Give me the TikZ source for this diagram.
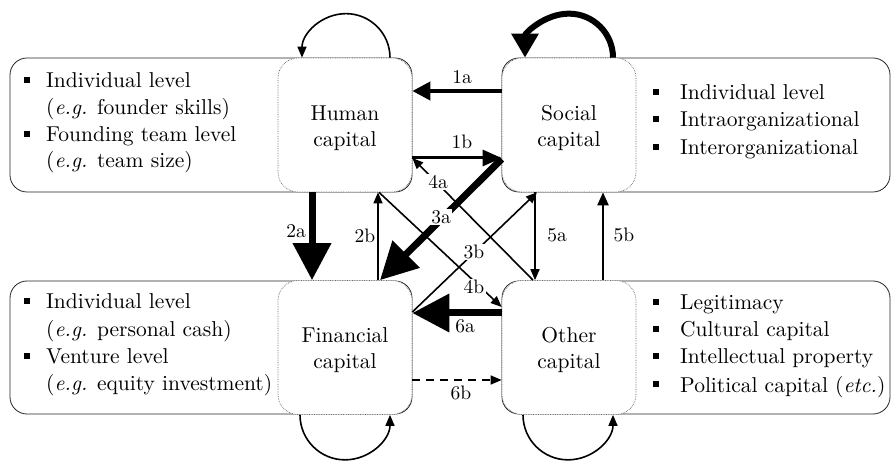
\documentclass[tikz,border=0pt]{standalone}
\usepackage{fontspec}
\setmainfont{lmroman10}[Extension=.otf, UprightFont=*-regular, ItalicFont=*-italic, BoldFont=*-bold]
\usetikzlibrary{arrows.meta}
\newcommand\mybul[1]{\makebox[#1][l]{\rule[5pt]{6pt}{6pt}}}
\newcommand\capstrut{\rule{0pt}{21pt}}
\begin{document}
\begin{tikzpicture}[x=1pt,y=-1pt,
  outerbox/.style={draw=black!85, line width=0.8pt, rounded corners=17pt},
  capbox/.style={draw=black!60, densely dotted, line width=0.7pt, fill=white,
    rounded corners=20pt, minimum width=134pt, minimum height=134pt,
    inner sep=0pt, align=center, font=\fontsize{21.5}{26}\selectfont, text=black},
  item/.style={anchor=base west, inner sep=0pt, font=\fontsize{21.5}{27}\selectfont, text=black},
  lbl/.style={inner sep=1.5pt, font=\fontsize{19.5}{19.5}\selectfont, text=black},
  onl/.style={lbl, fill=white},
  thinarr/.style={line width=1.6pt, -{Triangle[length=11pt,width=9pt]}},
  arrA/.style={line width=4pt, -{Triangle[length=18pt,width=18pt]}},
  arrB/.style={line width=3pt, -{Triangle[length=19pt,width=16pt]}},
  arrC/.style={line width=2.4pt, -{Triangle[length=13pt,width=11pt]}},
  bigarr/.style={line width=7pt, -{Triangle[length=37pt,width=37pt]}},
  loopbig/.style={line width=6pt, -{Triangle[length=24pt,width=26pt]}},
]
\useasboundingbox (0,0) rectangle (892,462);

% outer boxes
\draw[outerbox] (10,58) rectangle (412,192);
\draw[outerbox] (502,58) rectangle (890,192);
\draw[outerbox] (10,281) rectangle (412,414);
\draw[outerbox] (502,281) rectangle (890,414);

% capital boxes
\node[capbox] (human) at (345,125) {\capstrut Human\\capital};
\node[capbox] (social) at (569,125) {\capstrut Social\\capital};
\node[capbox] (financial) at (345,347.5) {\capstrut Financial\\capital};
\node[capbox] (other) at (569,347.5) {\capstrut Other\\capital};

% lists
\node[item] (h1) at (24,88) {\mybul{22pt}Individual level};
\node[item] (h2) at (46,115) {(\textit{e.g.} founder skills)};
\node[item] (h3) at (24,142) {\mybul{22pt}Founding team level};
\node[item] (h4) at (46,168) {(\textit{e.g.} team size)};

\node[item] (s1) at (653,100) {\mybul{27pt}Individual level};
\node[item] (s2) at (653,127) {\mybul{27pt}Intraorganizational};
\node[item] (s3) at (653,155) {\mybul{27pt}Interorganizational};

\node[item] (f1) at (24,309) {\mybul{22pt}Individual level};
\node[item] (f2) at (46,337) {(\textit{e.g.} personal cash)};
\node[item] (f3) at (24,364) {\mybul{22pt}Venture level};
\node[item] (f4) at (46,391) {(\textit{e.g.} equity investment)};

\node[item] (o1) at (653,310) {\mybul{27pt}Legitimacy};
\node[item] (o2) at (653,337) {\mybul{27pt}Cultural capital};
\node[item] (o3) at (653,364) {\mybul{27pt}Intellectual property};
\node[item] (o4) at (653,392) {\mybul{27pt}Political capital (\textit{etc.})};

% connectors
\draw[arrA] (social.west |- 0,91) -- (human.east |- 0,91);
\draw[arrB] (human.east |- 0,158) -- (social.west |- 0,158);
\draw[bigarr] (human.south -| 312,0) -- (financial.north -| 312,0);
\draw[thinarr] (financial.north -| 378,0) -- (human.south -| 378,0);
\draw[bigarr] (social.west |- 0,159) -- (financial.north -| 380,0);
\draw[thinarr] (financial.east |- 0,312) -- (social.south -| 537,0);
\draw[thinarr] (other.north -| 533,0) -- (human.east |- 0,158);
\draw[thinarr] (human.south -| 379,0) -- (other.west |- 0,307);
\draw[thinarr] (social.south -| 535,0) -- (other.north -| 535,0);
\draw[arrC] (other.north -| 603,0) -- (social.south -| 603,0);
\draw[bigarr] (other.west |- 0,313) -- (financial.east |- 0,313);
\draw[thinarr, dash pattern=on 8pt off 6pt] (financial.east |- 0,380) -- (other.west |- 0,380);

% loops
\draw[thinarr] (human.north -| 390,0) arc[start angle=0, end angle=-180, radius=44];
\draw[loopbig] (social.north -| 613,0) arc[start angle=0, end angle=-180, radius=44];
\draw[thinarr] (financial.south -| 300,0) arc[start angle=180, end angle=0, radius=45];
\draw[thinarr] (other.south -| 523,0) arc[start angle=180, end angle=0, radius=45];

% labels
\node[lbl] (l1a) at (462,77) {1a};
\node[lbl] (l1b) at (462,142) {1b};
\node[lbl] (l2a) at (296,231) {2a};
\node[lbl] (l2b) at (365,236) {2b};
\node[lbl] (l5a) at (557,235) {5a};
\node[lbl] (l5b) at (624,235) {5b};
\node[lbl] (l6a) at (465,326) {6a};
\node[lbl] (l6b) at (461,393) {6b};
\node[onl] (l3a) at (441,217) {3a};
\node[onl] (l4a) at (438,182) {4a};
\node[onl] (l3b) at (474,252) {3b};
\node[onl] (l4b) at (474,287) {4b};
\end{tikzpicture}
\end{document}
